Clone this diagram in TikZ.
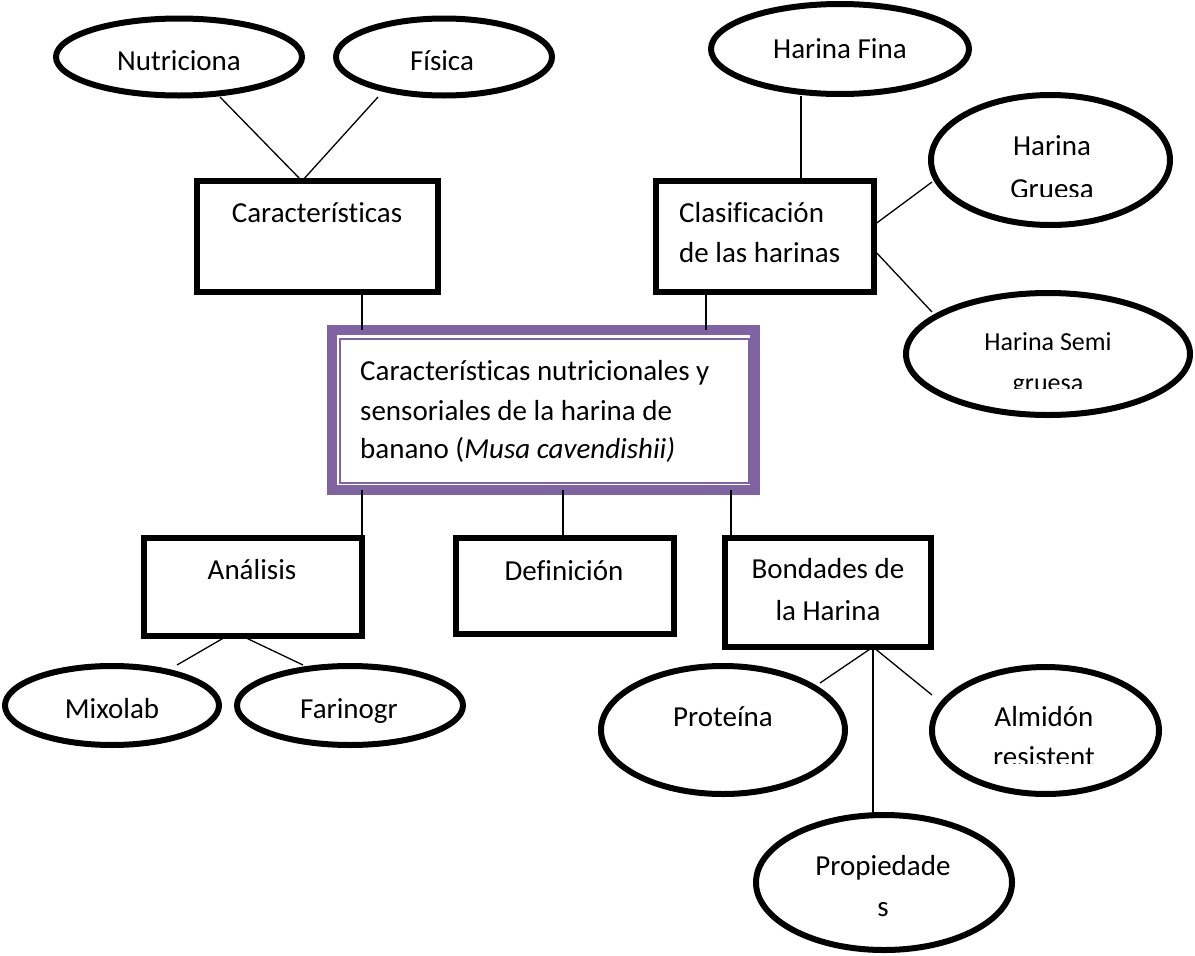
\documentclass[tikz,border=0pt]{standalone}
\usepackage{fontspec}
\setmainfont{Carlito}[Ligatures={NoCommon}]
\usetikzlibrary{shapes.geometric,calc}
\definecolor{purp}{RGB}{128,100,162}
\begin{document}
\begin{tikzpicture}[x=1pt,y=-1pt,
  ell/.style={draw=black,line width=6pt,ellipse,inner sep=0pt,outer sep=0pt,fill=white},
  box/.style={draw=black,line width=6pt,rectangle,inner sep=0pt,outer sep=0pt,fill=white},
  conn/.style={draw=black,line width=1.3pt},
  txt/.style={font=\fontsize{29}{35}\selectfont,anchor=base,inner sep=0pt},
  txtl/.style={txt,anchor=base west},
  small/.style={font=\fontsize{26}{31}\selectfont}
]
\useasboundingbox (0,0) rectangle (1195,956);

% shapes
\node[ell,minimum width=246,minimum height=77] (nutr) at (179,57) {};
\node[ell,minimum width=216,minimum height=77] (fis) at (444,57) {};
\node[ell,minimum width=258,minimum height=90] (hfina) at (840,49) {};
\node[ell,minimum width=239,minimum height=130] (hgruesa) at (1050.5,160) {};
\node[ell,minimum width=284,minimum height=122] (hsemi) at (1048,354) {};
\node[ell,minimum width=214,minimum height=79] (mixo) at (112,705.5) {};
\node[ell,minimum width=226,minimum height=79] (farin) at (350,705.5) {};
\node[ell,minimum width=244,minimum height=128] (prot) at (723,730) {};
\node[ell,minimum width=227,minimum height=127] (almid) at (1045.5,730.5) {};
\node[ell,minimum width=256,minimum height=135] (prop) at (884,882.5) {};

\node[box,minimum width=241,minimum height=111] (car) at (317.5,236.5) {};
\node[box,minimum width=218,minimum height=111] (clas) at (765,236.5) {};
\node[box,minimum width=218,minimum height=98] (anal) at (253,587) {};
\node[box,minimum width=218,minimum height=96] (defi) at (565,586) {};
\node[box,minimum width=206,minimum height=109] (bond) at (828,592.5) {};

\node[draw=purp,line width=10pt,fill=white,inner sep=0pt,outer sep=0pt,minimum width=423,minimum height=160] (ctr) at (543.5,410) {};
\node[draw=purp,line width=2pt,inner sep=0pt,outer sep=0pt,minimum width=409,minimum height=144] (ctrin) at (544.5,411) {};

% connector end points on node borders
\coordinate (carS) at ($(car.south)+(44.5,0)$);
\coordinate (clasS) at ($(clas.south)+(-59,0)$);
\coordinate (analN) at ($(anal.north)+(109,0)$);
\coordinate (defiN) at ($(defi.north)+(-2,0)$);
\coordinate (bondN) at ($(bond.north)+(-97,0)$);
\coordinate (bondS) at ($(bond.south)+(45,0)$);

% connectors
\draw[conn] ($(nutr.center)+(41,40)$) -- ($(car.north)+(-15.5,0)$);
\draw[conn] ($(fis.center)+(-66,40)$) -- ($(car.north)+(-15.5,0)$);
\draw[conn] (carS) -- (carS |- ctr.north);
\draw[conn] (clasS) -- (clasS |- ctr.north);
\draw[conn] ($(hfina.center)+(-39,47)$) -- ($(clas.north)+(36,0)$);
\draw[conn] ($(clas.east)+(0,-11.5)$) -- ($(hgruesa.center)+(-118.5,22)$);
\draw[conn] ($(clas.east)+(0,13.5)$) -- ($(hsemi.center)+(-116,-42)$);
\draw[conn] (analN |- ctr.south) -- (analN);
\draw[conn] (defiN |- ctr.south) -- (defiN);
\draw[conn] (bondN |- ctr.south) -- (bondN);
\draw[conn] ($(anal.south)+(-26,0)$) -- ($(mixo.center)+(65,-40.5)$);
\draw[conn] ($(anal.south)+(-11,0)$) -- ($(farin.center)+(-47,-40.5)$);
\draw[conn] (bondS) -- ($(prot.center)+(97,-47)$);
\draw[conn] (bondS) -- ($(almid.center)+(-113.5,-35.5)$);
\draw[conn] (bondS) -- (bondS |- prop.north);

% texts
\node[txt] (tnutr) at (179,70) {Nutriciona};
\node[txt] (tfis) at (442,70) {Física};
\node[txt] (thfina) at (840,58) {Harina Fina};
\node[txt] (tcar) at (317,222) {Características};
\node[txtl] (tclas1) at (679,222) {Clasificación};
\node[txtl] (tclas2) at (679,262) {de las harinas};
\node[txt] (thg1) at (1052,155) {Harina};
\begin{scope}
\clip (940,100) rectangle (1160,196);
\node[txt] (thg2) at (1052,198) {Gruesa};
\end{scope}
\node[txt,small] (ths1) at (1048,350) {Harina Semi};
\begin{scope}
\clip (940,355) rectangle (1160,388);
\node[txt,small] (ths2) at (1048,391) {gruesa};
\end{scope}
\node[txtl] (tc1) at (360,380) {Características nutricionales y};
\node[txtl] (tc2) at (360,420) {sensoriales de la harina de};
\node[txtl] (tc3) at (360,458) {banano (\textit{Musa cavendishii)}};
\node[txt] (tanal) at (252,579) {Análisis};
\node[txt] (tdefi) at (564,580) {Definición};
\node[txt] (tbond1) at (828,578) {Bondades de};
\node[txt] (tbond2) at (828,620) {la Harina};
\node[txt] (tmixo) at (112,718) {Mixolab};
\node[txtl] (tfarin) at (300,718) {Farinogr};
\node[txt] (tprot) at (723,726) {Proteína};
\node[txt] (talm1) at (1044,726) {Almidón};
\begin{scope}
\clip (940,730) rectangle (1150,763);
\node[txt] (talm2) at (1044,766) {resistent};
\end{scope}
\node[txt] (tprop1) at (883,875) {Propiedade};
\node[txt] (tprop2) at (883,916) {s};
\end{tikzpicture}
\end{document}
